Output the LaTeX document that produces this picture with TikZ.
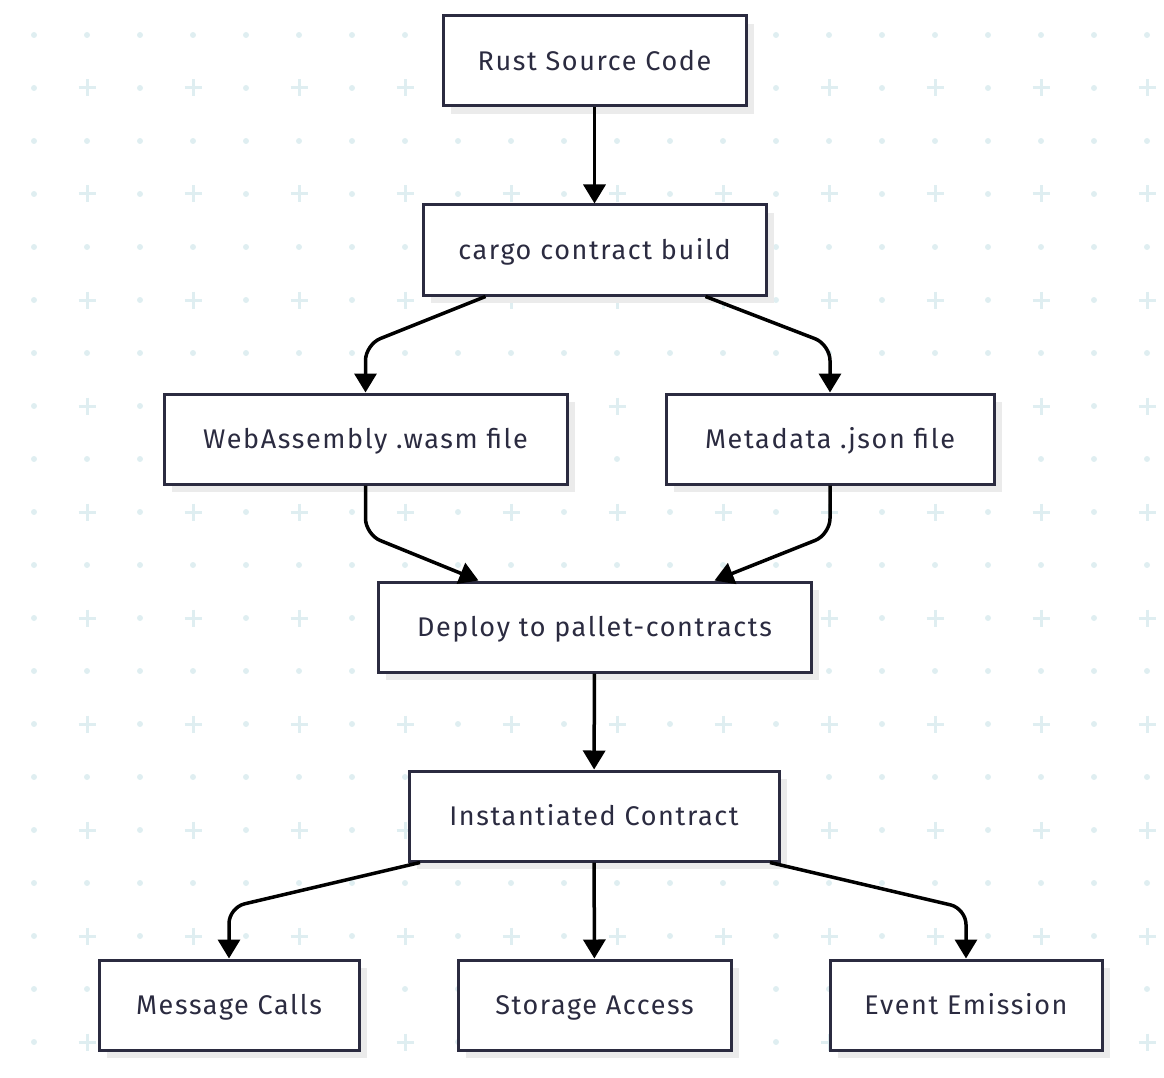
\documentclass[tikz,border=0pt]{standalone}
\usepackage{fontspec}
\setmainfont{Fira Sans}[LetterSpace=6]
\usetikzlibrary{arrows.meta,shadows}

\definecolor{boxline}{HTML}{2B2B40}
\definecolor{gridmark}{HTML}{DFEEF1}
\definecolor{boxshade}{HTML}{EBEBEB}

\begin{document}
\begin{tikzpicture}[x=1pt,y=-1pt,
        stage/.style={draw=boxline, line width=3pt, fill=white, text=boxline,
            inner sep=0pt, minimum height=90pt, text height=19pt, text depth=0pt,
            font=\fontsize{27}{32}\selectfont,
            drop shadow={shadow xshift=8pt, shadow yshift=-8pt, fill=boxshade, opacity=1}},
        flow/.style={line width=3.5pt, rounded corners=16pt,
            -{Triangle[width=22pt,length=19pt]}}]

        \useasboundingbox (0,0) rectangle (1164,1078);

        \foreach \i in {0,...,21} {
            \foreach \j in {0,...,19} {
                \pgfmathsetmacro{\gx}{34+53*\i}
                \pgfmathsetmacro{\gy}{35+53*\j}
                \pgfmathparse{int(mod(\i,2)*mod(\j,2))}
                \ifnum\pgfmathresult=1
                    \draw[gridmark, line width=3pt] (\gx-8.5,\gy) -- (\gx+8.5,\gy) (\gx,\gy-8.5) -- (\gx,\gy+8.5);
                \else
                    \fill[gridmark] (\gx,\gy) circle (3pt);
                \fi
            }
        }

        \node[stage, minimum width=303pt] (rust) at (594.5,61) {Rust Source Code};
        \node[stage, minimum width=343pt] (build) at (594.5,250) {cargo contract build};
        \node[stage, minimum width=403pt] (wasm) at (365.5,439) {WebAssembly .wasm file};
        \node[stage, minimum width=328pt] (meta) at (830,439) {Metadata .json file};
        \node[stage, minimum width=433pt] (deploy) at (594.5,627) {Deploy to pallet-contracts};
        \node[stage, minimum width=370pt] (inst) at (594,816) {Instantiated Contract};
        \node[stage, minimum width=260pt] (calls) at (229,1005) {Message Calls};
        \node[stage, minimum width=273pt] (storage) at (594.5,1005) {Storage Access};
        \node[stage, minimum width=272pt] (events) at (966,1005) {Event Emission};

        \draw[flow] (rust) -- (build);
        \draw[flow] ([xshift=-109pt]build.south) -- ([yshift=48pt]wasm.north) -- (wasm.north);
        \draw[flow] ([xshift=111pt]build.south) -- ([yshift=48pt]meta.north) -- (meta.north);
        \draw[flow] (wasm.south) -- ([yshift=-49pt]wasm.south) -- ([xshift=-116pt]deploy.north);
        \draw[flow] (meta.south) -- ([yshift=-49pt]meta.south) -- ([xshift=120pt]deploy.north);
        \draw[flow] (deploy) -- (inst);
        \draw[flow] ([xshift=-174pt]inst.south) -- ([yshift=51pt]calls.north) -- (calls.north);
        \draw[flow] (inst) -- (storage);
        \draw[flow] ([xshift=176pt]inst.south) -- ([yshift=50pt]events.north) -- (events.north);
    \end{tikzpicture}
\end{document}
